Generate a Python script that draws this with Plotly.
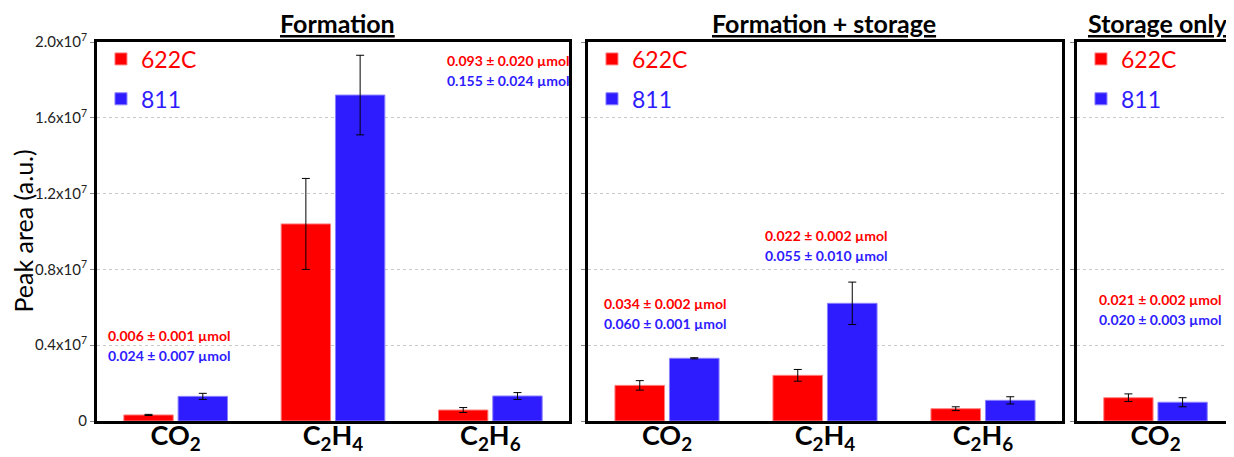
import plotly.graph_objects as go

# peak area values (a.u.)
gases_p1 = ['CO2', 'C2H4', 'C2H6']
gases_p2 = ['CO2', 'C2H4', 'C2H6']
gases_p3 = ['CO2']

c622_p1 = [0.032e7, 1.04e7, 0.058e7]
c622_p1_err = [0.003e7, 0.24e7, 0.013e7]
c811_p1 = [0.13e7, 1.72e7, 0.132e7]
c811_p1_err = [0.016e7, 0.21e7, 0.018e7]

c622_p2 = [0.188e7, 0.241e7, 0.065e7]
c622_p2_err = [0.025e7, 0.031e7, 0.010e7]
c811_p2 = [0.331e7, 0.621e7, 0.109e7]
c811_p2_err = [0.003e7, 0.112e7, 0.019e7]

c622_p3 = [0.123e7]
c622_p3_err = [0.020e7]
c811_p3 = [0.099e7]
c811_p3_err = [0.024e7]

gas_labels = {'CO2': 'CO<sub>2</sub>', 'C2H4': 'C<sub>2</sub>H<sub>4</sub>', 'C2H6': 'C<sub>2</sub>H<sub>6</sub>'}

panel_titles = ['Formation', 'Formation + storage', 'Storage only']

# (panel, category index, x offset, y, 622C text, 811 text)
umol_labels = [
    (1, 0, -0.44, 0.396e7, '0.006 ± 0.001 µmol', '0.024 ± 0.007 µmol'),
    (1, 1, 0.71, 1.852e7, '0.093 ± 0.020 µmol', '0.155 ± 0.024 µmol'),
    (2, 0, -0.41, 0.565e7, '0.034 ± 0.002 µmol', '0.060 ± 0.001 µmol'),
    (2, 1, -0.39, 0.924e7, '0.022 ± 0.002 µmol', '0.055 ± 0.010 µmol'),
    (3, 0, -0.37, 0.586e7, '0.021 ± 0.002 µmol', '0.020 ± 0.003 µmol'),
]

y_ticks = [0, 0.4e7, 0.8e7, 1.2e7, 1.6e7, 2.0e7]
y_ticktext = ['0', '0.4x10<sup>7</sup>', '0.8x10<sup>7</sup>', '1.2x10<sup>7</sup>',
              '1.6x10<sup>7</sup>', '2.0x10<sup>7</sup>']

RED = '#FF0000'
BLUE = '#2E1CFF'
FONT = 'Lato, Open Sans, sans-serif'

# the page body adds an 8px offset, so the figure is sized to the visible area
OFF = 8
W, H = 1234 - OFF, 457 - OFF
ML, MR, MT, MB = 97 - OFF, 0, 42 - OFF, 36
PW = W - ML - MR


def px(x):
    # page pixel -> paper fraction
    return (x - OFF - ML) / PW


domains = [[px(97), px(569)], [px(588), px(1062)], [px(1077), 1.0]]
title_x = [px(337), px(824), px(1158)]

panels = [
    (gases_p1, c622_p1, c622_p1_err, c811_p1, c811_p1_err),
    (gases_p2, c622_p2, c622_p2_err, c811_p2, c811_p2_err),
    (gases_p3, c622_p3, c622_p3_err, c811_p3, c811_p3_err),
]

fig = go.Figure()

for i, (gases, r, r_err, b, b_err) in enumerate(panels):
    n = i + 1
    xa = 'x' if n == 1 else 'x%d' % n
    ya = 'y' if n == 1 else 'y%d' % n
    lg = 'legend' if n == 1 else 'legend%d' % n
    xs = list(range(len(gases)))
    fig.add_trace(go.Bar(x=xs, y=r, name='<span style="color:%s">622C</span>' % RED,
                         marker=dict(color=RED, line=dict(color='#FF8080', width=1)),
                         error_y=dict(type='data', array=r_err, color='black', thickness=1, width=4),
                         xaxis=xa, yaxis=ya, legend=lg, legendgroup='a%d' % n))
    fig.add_trace(go.Bar(x=xs, y=b, name='<span style="color:%s">811</span>' % BLUE,
                         marker=dict(color=BLUE, line=dict(color='#8A80FF', width=1)),
                         error_y=dict(type='data', array=b_err, color='black', thickness=1, width=4),
                         xaxis=xa, yaxis=ya, legend=lg, legendgroup='b%d' % n))

    xkey = 'xaxis' if n == 1 else 'xaxis%d' % n
    ykey = 'yaxis' if n == 1 else 'yaxis%d' % n
    fig.layout[xkey] = dict(domain=domains[i], anchor=ya, range=[-0.5, len(gases) - 0.5],
                            tickvals=xs, ticktext=[gas_labels[g] for g in gases],
                            tickfont=dict(size=27, color='black', family=FONT, weight='bold'),
                            ticklabelstandoff=-11, automargin=False,
                            showline=True, linecolor='black', linewidth=3, mirror=True,
                            showgrid=False, ticks='', fixedrange=True)
    yax = dict(domain=[0, 1], anchor=xa, range=[0, 2.0e7], automargin=False,
               tickvals=y_ticks, showticklabels=(n == 1),
               tickfont=dict(size=15, color='#222222', family=FONT),
               showline=True, linecolor='black', linewidth=3, mirror=(n != 3),
               ticks='outside', ticklen=4, tickcolor='#888888', tickwidth=1,
               showgrid=True, gridcolor='#C8C8C8', griddash='dot', gridwidth=1,
               zeroline=False, fixedrange=True)
    if n == 1:
        yax['ticktext'] = y_ticktext
    fig.layout[ykey] = yax

    fig.layout[lg] = dict(x=domains[i][0] + 0.0035, xanchor='left', y=1.012, yanchor='top',
                          font=dict(size=23, family=FONT), bgcolor='rgba(0,0,0,0)',
                          tracegroupgap=7, itemwidth=30)

    fig.add_annotation(text='<b>%s</b>' % panel_titles[i], xref='paper', yref='paper',
                       x=title_x[i], xanchor='center', y=1, yanchor='bottom', yshift=2,
                       showarrow=False,
                       font=dict(size=25, color='black', family=FONT, lineposition='under'))

# y axis title
fig.add_annotation(text='Peak area (a.u.)', xref='paper', yref='paper', x=px(22), y=0.5,
                   xanchor='center', yanchor='middle', textangle=-90, showarrow=False,
                   font=dict(size=25, family=FONT, color='black'))

for (n, cat, dx, y, t1, t2) in umol_labels:
    xa = 'x' if n == 1 else 'x%d' % n
    ya = 'y' if n == 1 else 'y%d' % n
    for txt, col, shift in [(t1, RED, 10), (t2, BLUE, -10)]:
        fig.add_annotation(text=txt, xref=xa, yref=ya, x=cat + dx, y=y, yshift=shift,
                           xanchor='left', yanchor='middle', align='left', showarrow=False,
                           font=dict(size=14, family=FONT, weight='bold', color=col))

fig.update_layout(
    width=W, height=H,
    margin=dict(l=ML, r=MR, t=MT, b=MB, autoexpand=False),
    barmode='group', bargap=0.31, bargroupgap=0.09,
    plot_bgcolor='white', paper_bgcolor='white',
    font=dict(family=FONT, color='black'),
    showlegend=True,
)

fig.write_html("out.html")
